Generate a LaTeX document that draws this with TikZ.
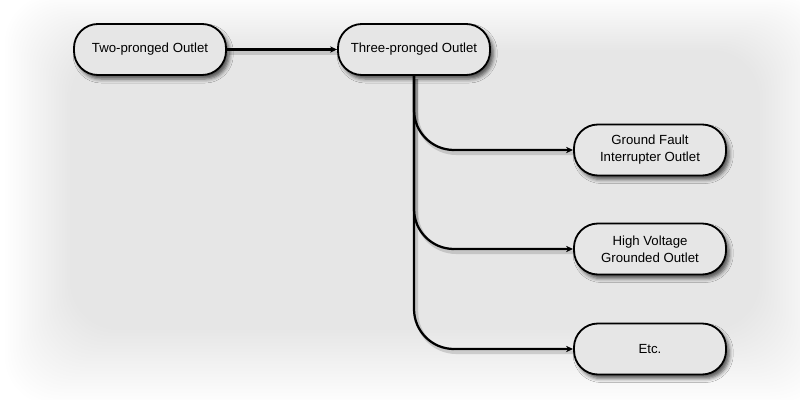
\documentclass[tikz,border=0pt]{standalone}
\usepackage{fontspec}
\setmainfont{Liberation Sans}
\usetikzlibrary{shadows.blur,arrows.meta}
\definecolor{boxfill}{HTML}{E6E6E6}
\begin{document}
\begin{tikzpicture}[x=0.025cm,y=-0.025cm,
  box/.style={draw=black, line width=1.3pt, fill=boxfill, rounded corners=0.6cm,
    minimum width=3.8cm, minimum height=1.275cm, align=center,
    font=\fontsize{9.4}{12}\selectfont,
    blur shadow={shadow xshift=0.08cm, shadow yshift=-0.1cm, shadow blur radius=0.1cm, shadow opacity=65}},
  conn/.style={line width=1.6pt, -{Stealth[length=5pt,width=4.5pt]}},
  connshadow/.style={line width=2.6pt, black, opacity=0.14},
]
\useasboundingbox (0,0) rectangle (800,400);
\fill[white] (0,0) rectangle (800,400);
\foreach \i in {0,...,24}{
  \pgfmathsetmacro\t{\i/24}
  \fill[black, opacity=0.0045, rounded corners=1.2cm]
    ({5+65*\t},{-5+55*\t}) rectangle ({830-70*\t},{405-75*\t});
}
\node[box] (two) at (150,49.5) {Two-pronged Outlet};
\node[box] (three) at (414,49.5) {Three-pronged Outlet};
\node[box] (gfi) at (650,150) {Ground Fault\\Interrupter Outlet};
\node[box] (hv) at (650,249) {High Voltage\\Grounded Outlet};
\node[box] (etc) at (650,349) {Etc.};

\begin{scope}[transform canvas={shift={(0.06cm,-0.08cm)}}]
\draw[connshadow] (two) -- (three);
\draw[connshadow, rounded corners=1cm] (three.south) |- (gfi.west);
\draw[connshadow, rounded corners=1cm] (three.south) |- (hv.west);
\draw[connshadow, rounded corners=1cm] (three.south) |- (etc.west);
\end{scope}
\draw[conn] (two) -- (three);
\draw[conn, rounded corners=1cm] (three.south) |- (gfi.west);
\draw[conn, rounded corners=1cm] (three.south) |- (hv.west);
\draw[conn, rounded corners=1cm] (three.south) |- (etc.west);
\end{tikzpicture}
\end{document}
